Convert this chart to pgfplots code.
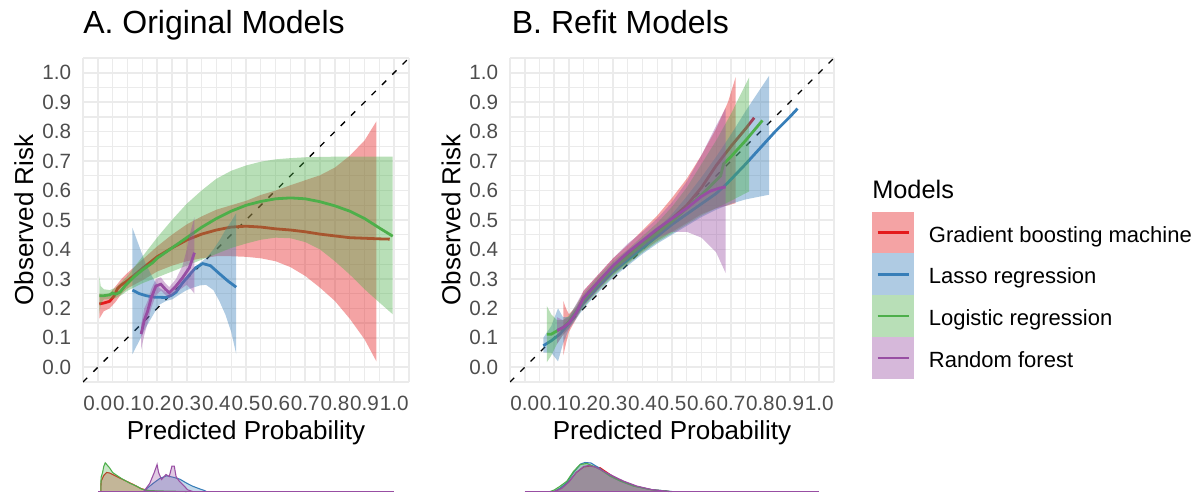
\documentclass[border=0pt]{standalone}
\usepackage{pgfplots}
\pgfplotsset{compat=1.18}
\usepackage{pgfplotstable}
\usepgfplotslibrary{fillbetween}
\usepackage{fontspec}
\setmainfont{Liberation Sans}
\definecolor{cgbm}{HTML}{E41A1C}
\definecolor{classo}{HTML}{377EB8}
\definecolor{clog}{HTML}{4DAF4A}
\definecolor{crf}{HTML}{984EA3}
\definecolor{gridc}{HTML}{EBEBEB}
\definecolor{tickc}{HTML}{4D4D4D}
\tikzset{fill between/on layer=main}

% ---------- Panel A: calibration lines ----------
\pgfplotstableread{
x y
0.005 0.215
0.02 0.218
0.04 0.224
0.055 0.242
0.067 0.268
0.08 0.28
0.095 0.29
0.12 0.31
0.15 0.335
0.2 0.375
0.25 0.405
0.3 0.432
0.35 0.452
0.4 0.466
0.45 0.476
0.5 0.479
0.55 0.476
0.6 0.47
0.65 0.466
0.7 0.46
0.75 0.452
0.8 0.446
0.85 0.44
0.9 0.438
0.95 0.436
0.985 0.435
}\gbmAline
\pgfplotstableread{
x lo hi
0.005 0.165 0.25
0.02 0.19 0.245
0.04 0.2 0.25
0.06 0.222 0.275
0.08 0.25 0.3
0.1 0.268 0.32
0.15 0.295 0.365
0.2 0.325 0.41
0.25 0.345 0.45
0.3 0.36 0.485
0.35 0.37 0.512
0.4 0.377 0.535
0.45 0.377 0.55
0.5 0.375 0.565
0.55 0.37 0.585
0.6 0.36 0.6
0.65 0.34 0.618
0.7 0.31 0.635
0.75 0.27 0.652
0.8 0.225 0.678
0.85 0.165 0.718
0.9 0.095 0.77
0.94 0.02 0.835
}\gbmAband
\pgfplotstableread{
x y
0.117 0.262
0.14 0.25
0.163 0.243
0.19 0.238
0.23 0.237
0.25 0.245
0.264 0.255
0.285 0.285
0.31 0.315
0.33 0.338
0.354 0.352
0.38 0.345
0.41 0.318
0.44 0.292
0.467 0.272
}\lasAline
\pgfplotstableread{
x lo hi
0.117 0.045 0.473
0.14 0.09 0.41
0.162 0.135 0.35
0.185 0.175 0.305
0.207 0.212 0.27
0.23 0.225 0.255
0.252 0.231 0.258
0.28 0.25 0.29
0.3 0.262 0.31
0.32 0.27 0.33
0.345 0.278 0.355
0.365 0.28 0.37
0.39 0.262 0.4
0.41 0.225 0.43
0.43 0.18 0.465
0.45 0.12 0.495
0.467 0.045 0.524
}\lasAband
\pgfplotstableread{
x y
0.005 0.243
0.02 0.243
0.04 0.246
0.05 0.252
0.06 0.248
0.075 0.255
0.095 0.28
0.12 0.305
0.15 0.33
0.185 0.355
0.2 0.37
0.25 0.405
0.3 0.44
0.35 0.475
0.4 0.505
0.45 0.53
0.5 0.55
0.55 0.563
0.6 0.572
0.65 0.575
0.7 0.572
0.75 0.562
0.8 0.548
0.85 0.53
0.9 0.505
0.95 0.473
0.995 0.445
}\logAline
\pgfplotstableread{
x lo hi
0.005 0.18 0.31
0.01 0.215 0.275
0.02 0.23 0.265
0.04 0.232 0.262
0.06 0.235 0.27
0.08 0.245 0.29
0.1 0.26 0.31
0.15 0.285 0.375
0.2 0.305 0.44
0.25 0.325 0.5
0.3 0.345 0.555
0.35 0.365 0.6
0.4 0.385 0.64
0.45 0.405 0.667
0.5 0.42 0.685
0.55 0.433 0.698
0.6 0.44 0.706
0.65 0.438 0.71
0.7 0.425 0.713
0.75 0.4 0.714
0.8 0.36 0.715
0.85 0.315 0.715
0.9 0.265 0.715
0.95 0.22 0.715
0.995 0.18 0.715
}\logAband
\pgfplotstableread{
x y
0.146 0.113
0.157 0.16
0.168 0.19
0.18 0.235
0.196 0.276
0.213 0.282
0.228 0.265
0.241 0.253
0.264 0.276
0.286 0.304
0.309 0.338
0.326 0.389
}\rfAline
\pgfplotstableread{
x lo hi
0.146 0.06 0.145
0.157 0.11 0.2
0.168 0.15 0.225
0.18 0.2 0.265
0.196 0.245 0.3
0.213 0.26 0.305
0.228 0.245 0.285
0.241 0.235 0.272
0.264 0.255 0.3
0.286 0.27 0.345
0.3 0.28 0.4
0.31 0.27 0.45
0.326 0.25 0.51
}\rfAband

% ---------- Panel B ----------
\pgfplotstableread{
x y
0.131 0.135
0.15 0.15
0.175 0.185
0.2 0.235
0.25 0.29
0.3 0.34
0.35 0.38
0.4 0.425
0.45 0.465
0.5 0.505
0.55 0.55
0.6 0.61
0.65 0.685
0.7 0.75
0.75 0.81
0.779 0.847
}\gbmBline
\pgfplotstableread{
x lo hi
0.131 0.04 0.225
0.14 0.08 0.2
0.15 0.12 0.18
0.175 0.165 0.205
0.2 0.21 0.26
0.25 0.265 0.315
0.3 0.315 0.37
0.35 0.355 0.415
0.4 0.395 0.465
0.45 0.43 0.515
0.5 0.46 0.575
0.55 0.49 0.64
0.6 0.52 0.72
0.65 0.54 0.81
0.69 0.55 0.9
0.716 0.557 0.985
}\gbmBband
\pgfplotstableread{
x y
0.063 0.073
0.09 0.09
0.12 0.113
0.15 0.15
0.2 0.22
0.25 0.275
0.3 0.325
0.35 0.365
0.4 0.405
0.45 0.445
0.5 0.485
0.55 0.52
0.6 0.555
0.65 0.59
0.688 0.625
0.75 0.69
0.8 0.745
0.85 0.8
0.9 0.85
0.926 0.878
}\lasBline
\pgfplotstableread{
x lo hi
0.063 0.05 0.1
0.09 0.05 0.14
0.113 0.02 0.2
0.13 0.08 0.17
0.15 0.13 0.17
0.2 0.2 0.24
0.25 0.255 0.295
0.3 0.305 0.345
0.35 0.345 0.385
0.4 0.385 0.425
0.45 0.42 0.47
0.5 0.45 0.52
0.55 0.48 0.58
0.6 0.51 0.645
0.65 0.535 0.715
0.7 0.555 0.79
0.75 0.57 0.87
0.8 0.58 0.945
0.83 0.586 0.99
}\lasBband
\pgfplotstableread{
x y
0.075 0.112
0.09 0.112
0.1 0.118
0.13 0.135
0.15 0.155
0.175 0.19
0.2 0.228
0.25 0.285
0.3 0.335
0.35 0.375
0.4 0.418
0.45 0.455
0.5 0.495
0.55 0.54
0.6 0.585
0.65 0.635
0.665 0.65
0.675 0.69
0.7 0.715
0.75 0.77
0.807 0.838
}\logBline
\pgfplotstableread{
x lo hi
0.075 0.017 0.208
0.09 0.04 0.18
0.11 0.08 0.16
0.13 0.11 0.16
0.15 0.135 0.175
0.2 0.205 0.25
0.25 0.26 0.31
0.3 0.31 0.36
0.35 0.35 0.4
0.4 0.39 0.445
0.45 0.425 0.49
0.5 0.455 0.545
0.55 0.485 0.61
0.6 0.515 0.69
0.65 0.54 0.77
0.7 0.565 0.86
0.762 0.597 0.985
}\logBband
\pgfplotstableread{
x y
0.11 0.125
0.13 0.135
0.15 0.15
0.175 0.185
0.2 0.235
0.25 0.29
0.3 0.345
0.35 0.39
0.4 0.43
0.45 0.47
0.5 0.505
0.55 0.54
0.6 0.58
0.63 0.598
0.66 0.608
0.682 0.612
}\rfBline
\pgfplotstableread{
x lo hi
0.11 0.08 0.17
0.13 0.11 0.16
0.15 0.13 0.17
0.2 0.21 0.26
0.25 0.265 0.315
0.3 0.32 0.37
0.35 0.365 0.42
0.4 0.405 0.46
0.45 0.44 0.505
0.5 0.46 0.56
0.55 0.46 0.63
0.6 0.44 0.72
0.65 0.39 0.82
0.682 0.32 0.88
}\rfBband

\pgfplotsset{
  every axis title shift=0pt,
  calib/.style={
    scale only axis, height=243pt,
    xmin=-0.05, xmax=1.05, ymin=-0.05, ymax=1.05,
    xtick={0,0.1,0.2,0.3,0.4,0.5,0.6,0.7,0.8,0.9,1},
    ytick={0,0.1,0.2,0.3,0.4,0.5,0.6,0.7,0.8,0.9,1},
    minor xtick={-0.0499,0.05,0.15,0.25,0.35,0.45,0.55,0.65,0.75,0.85,0.95,1.0499},
    minor ytick={-0.0499,0.05,0.15,0.25,0.35,0.45,0.55,0.65,0.75,0.85,0.95,1.0499},
    grid=both,
    major grid style={draw=gridc, line width=1.2pt},
    minor grid style={draw=gridc, line width=0.9pt},
    axis line style={draw=none},
    tick style={draw=none}, major tick length=0pt, minor tick length=0pt,
    /pgf/number format/.cd, fixed, fixed zerofill, precision=1, assume math mode=true, /pgfplots/.cd,
    tick label style={font=\fontsize{15.5}{18}\selectfont, text=tickc, inner sep=0pt},
    xticklabel style={anchor=north, yshift=-10.5pt},
    yticklabel style={anchor=east, xshift=-8.7pt},
    xlabel={Predicted Probability}, ylabel={Observed Risk},
    label style={font=\fontsize{19.5}{22}\selectfont, inner sep=0pt},
    xlabel style={at={(axis description cs:0.5,-0.1775)}, anchor=base},
    ylabel style={at={(axis description cs:-0.153,0.5)}, anchor=base},
    title style={anchor=base west, inner sep=0pt, font=\fontsize{24}{28}\selectfont},
  },
  diag/.style={black, line width=1pt, dash pattern=on 4.5pt off 6.4pt},
  band/.style={draw=none, fill=#1, fill opacity=0.4},
  cline/.style={#1, line width=2.1pt},
  dens/.style={scale only axis, height=22.5pt, xmin=-0.05, xmax=1.05, ymin=0, ymax=30,
    axis lines=none, xtick=\empty, ytick=\empty, clip=false},
  dplot/.style={draw=#1, fill=#1, fill opacity=0.3, line width=0.8pt},
}

\begin{document}
\begin{tikzpicture}
\path (0,0) rectangle (898.5pt,369.75pt);

% ===== Panel A =====
\begin{axis}[calib, width=244.5pt, at={(62.25pt,83.25pt)}, anchor=south west,
  title={A. Original Models}, title style={at={(axis description cs:0,1.0762)}}]
\addplot[diag] coordinates {(-0.05,-0.05) (1.05,1.05)};
% GBM
\addplot[name path=gAh, draw=none] table[x=x,y=hi]{\gbmAband};
\addplot[name path=gAl, draw=none] table[x=x,y=lo]{\gbmAband};
\addplot[band=cgbm] fill between[of=gAh and gAl];
\addplot[cline=cgbm] table[x=x,y=y]{\gbmAline};
% Lasso
\addplot[name path=lAh, draw=none] table[x=x,y=hi]{\lasAband};
\addplot[name path=lAl, draw=none] table[x=x,y=lo]{\lasAband};
\addplot[band=classo] fill between[of=lAh and lAl];
\addplot[cline=classo] table[x=x,y=y]{\lasAline};
% Logistic
\addplot[name path=oAh, draw=none] table[x=x,y=hi]{\logAband};
\addplot[name path=oAl, draw=none] table[x=x,y=lo]{\logAband};
\addplot[band=clog] fill between[of=oAh and oAl];
\addplot[cline=clog] table[x=x,y=y]{\logAline};
% RF
\addplot[name path=rAh, draw=none] table[x=x,y=hi]{\rfAband};
\addplot[name path=rAl, draw=none] table[x=x,y=lo]{\rfAband};
\addplot[band=crf] fill between[of=rAh and rAl];
\addplot[cline=crf] table[x=x,y=y]{\rfAline};
\end{axis}

% ===== Panel B =====
\begin{axis}[calib, width=243pt, at={(382.5pt,83.25pt)}, anchor=south west,
  title={B. Refit Models}, title style={at={(axis description cs:0.005,1.0762)}},
  legend style={at={(axis description cs:1.1173,0.5256)}, anchor=north west,
    draw=none, fill=none, inner sep=0pt, outer sep=0pt, row sep=0pt,
    font=\fontsize{16.5}{19}\selectfont,
    nodes={inner sep=0pt, outer sep=0pt, text height=14.4pt, text depth=0pt},
    /tikz/every odd column/.append style={column sep=11.5pt}},
  legend cell align=left]
\addlegendimage{legend image code/.code={\fill[cgbm!40] (0pt,-15.45pt) rectangle (30.75pt,15.45pt); \draw[cgbm,line width=1.9pt] (4pt,0pt) -- (27.75pt,0pt);}}
\addlegendentry{Gradient boosting machine}
\addlegendimage{legend image code/.code={\fill[classo!40] (0pt,-15.45pt) rectangle (30.75pt,15.45pt); \draw[classo,line width=1.9pt] (4pt,0pt) -- (27.75pt,0pt);}}
\addlegendentry{Lasso regression}
\addlegendimage{legend image code/.code={\fill[clog!40] (0pt,-15.45pt) rectangle (30.75pt,15.45pt); \draw[clog,line width=1.9pt] (4pt,0pt) -- (27.75pt,0pt);}}
\addlegendentry{Logistic regression}
\addlegendimage{legend image code/.code={\fill[crf!40] (0pt,-15.45pt) rectangle (30.75pt,15.45pt); \draw[crf,line width=1.9pt] (4pt,0pt) -- (27.75pt,0pt);}}
\addlegendentry{Random forest}
\addplot[diag, forget plot] coordinates {(-0.05,-0.05) (1.05,1.05)};
\addplot[name path=gBh, draw=none, forget plot] table[x=x,y=hi]{\gbmBband};
\addplot[name path=gBl, draw=none, forget plot] table[x=x,y=lo]{\gbmBband};
\addplot[band=cgbm, forget plot] fill between[of=gBh and gBl];
\addplot[cline=cgbm, forget plot] table[x=x,y=y]{\gbmBline};
\addplot[name path=lBh, draw=none, forget plot] table[x=x,y=hi]{\lasBband};
\addplot[name path=lBl, draw=none, forget plot] table[x=x,y=lo]{\lasBband};
\addplot[band=classo, forget plot] fill between[of=lBh and lBl];
\addplot[cline=classo, forget plot] table[x=x,y=y]{\lasBline};
\addplot[name path=oBh, draw=none, forget plot] table[x=x,y=hi]{\logBband};
\addplot[name path=oBl, draw=none, forget plot] table[x=x,y=lo]{\logBband};
\addplot[band=clog, forget plot] fill between[of=oBh and oBl];
\addplot[cline=clog, forget plot] table[x=x,y=y]{\logBline};
\addplot[name path=rBh, draw=none, forget plot] table[x=x,y=hi]{\rfBband};
\addplot[name path=rBl, draw=none, forget plot] table[x=x,y=lo]{\rfBband};
\addplot[band=crf, forget plot] fill between[of=rBh and rBl];
\addplot[cline=crf, forget plot] table[x=x,y=y]{\rfBline};
\end{axis}

\node[anchor=base west, inner sep=0pt, font=\fontsize{19}{22}\selectfont] at (654pt,221pt) {Models};

% ===== Density A =====
\begin{axis}[dens, width=244.5pt, at={(62.25pt,1.125pt)}, anchor=south west]
\addplot[dplot=cgbm] coordinates {(0.01,0) (0.011,10) (0.02,16) (0.03,19) (0.04,18.5) (0.05,17) (0.07,14) (0.095,10.5) (0.12,7) (0.145,3) (0.17,1) (0.2,0)};
\addplot[dplot=classo] coordinates {(0.155,0) (0.16,1.7) (0.186,8) (0.209,13) (0.232,15.7) (0.254,14.3) (0.277,12.3) (0.3,8.3) (0.32,5.3) (0.343,2.7) (0.36,1) (0.366,0)};
\addplot[dplot=clog] coordinates {(0.01,0) (0.011,14) (0.016,19) (0.02,25) (0.025,28.7) (0.03,27) (0.04,23.5) (0.05,19) (0.067,15.5) (0.08,13) (0.095,10.5) (0.11,8) (0.13,5.5) (0.15,2.2) (0.17,1) (0.2,0.6) (0.25,0.3) (0.3,0)};
\addplot[dplot=crf] coordinates {(0.155,0) (0.16,2) (0.175,8) (0.19,18.7) (0.2,27) (0.205,19) (0.215,12) (0.23,17) (0.241,15) (0.25,25.3) (0.258,25.3) (0.264,15) (0.275,10.3) (0.292,5.3) (0.303,1.7) (0.32,0)};
\addplot[crf, line width=0.8pt] coordinates {(0,0) (1,0)};
\end{axis}

% ===== Density B =====
\begin{axis}[dens, width=243pt, at={(382.5pt,1.125pt)}, anchor=south west]
\addplot[dplot=cgbm] coordinates {(0.1,0) (0.125,3.5) (0.15,10) (0.175,19) (0.2,24.5) (0.222,25.5) (0.24,24.5) (0.256,23.8) (0.27,21) (0.3,15) (0.335,10) (0.38,5) (0.43,1.8) (0.46,0.8) (0.475,0.9) (0.49,0)};
\addplot[dplot=classo] coordinates {(0.1,0) (0.12,3.5) (0.143,9) (0.166,19) (0.19,27.5) (0.205,29) (0.225,28.5) (0.25,24) (0.29,15.5) (0.325,10.5) (0.37,5.5) (0.427,2) (0.5,0)};
\addplot[dplot=clog] coordinates {(0.086,0) (0.1,1.5) (0.12,5.3) (0.143,10.3) (0.166,20.3) (0.188,27) (0.211,28) (0.234,25.3) (0.256,22) (0.29,15.3) (0.325,10.3) (0.37,5.3) (0.427,2) (0.495,0)};
\addplot[dplot=crf] coordinates {(0.1,0) (0.125,3) (0.15,9.5) (0.175,19) (0.2,25) (0.217,26) (0.24,24.5) (0.27,20) (0.3,15.5) (0.335,10.5) (0.38,5.5) (0.43,2) (0.49,0)};
\addplot[crf, line width=0.8pt] coordinates {(0,0) (1,0)};
\end{axis}
\end{tikzpicture}
\end{document}
